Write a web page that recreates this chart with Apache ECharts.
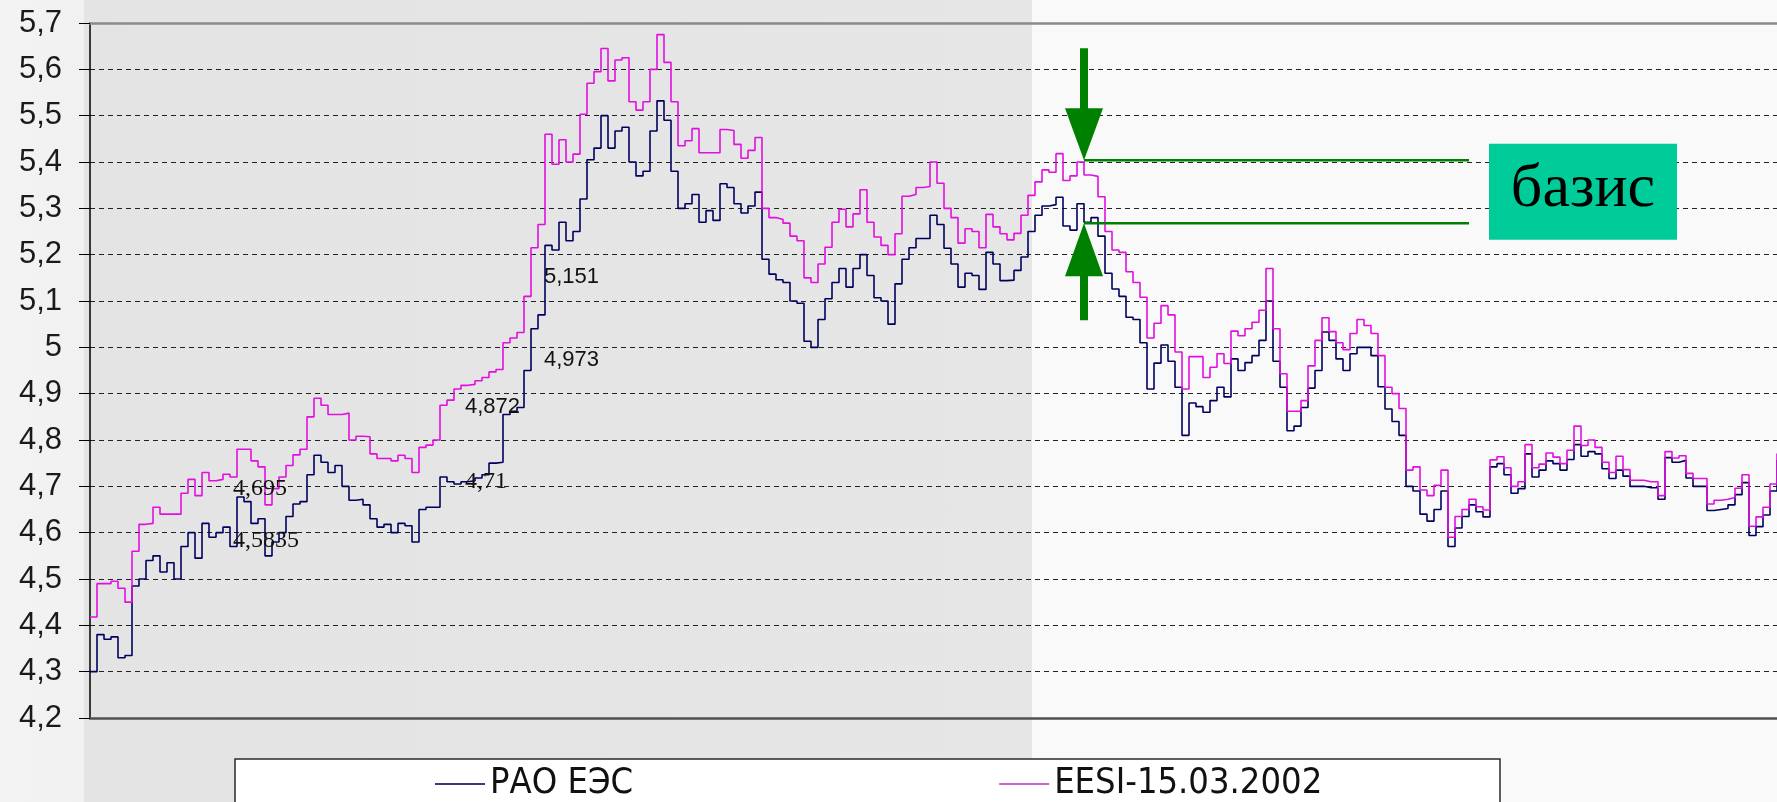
<!DOCTYPE html>
<html><head><meta charset="utf-8">
<script src="https://cdn.jsdelivr.net/npm/echarts@6/dist/echarts.min.js"></script>
<style>
html,body{margin:0;padding:0;}
#c{width:1777px;height:802px;background:linear-gradient(to right,#f3f3f3 0,#f1f1f1 84px,#e4e4e4 84px,#e6e6e6 1032px,#f9f9f9 1032px,#f9f9f9 100%);}
</style>
</head><body><div id="c"></div>
<script>
const seriesNames = ['РАО ЕЭС', 'EESI-15.03.2002'];
const rao = [4.30,4.38,4.37,4.375,4.33,4.335,4.485,4.50,4.54,4.55,
 4.515,4.535,4.50,4.57,4.60,4.545,4.62,4.59,4.60,4.612,
 4.57,4.677,4.667,4.62,4.63,4.55,4.58,4.60,4.635,4.662,
 4.667,4.725,4.767,4.752,4.73,4.745,4.70,4.67,4.672,4.66,
 4.63,4.612,4.618,4.60,4.62,4.615,4.58,4.65,4.655,4.655,
 4.72,4.71,4.705,4.71,4.712,4.718,4.725,4.75,4.752,4.855,
 4.862,4.87,4.95,5.04,5.07,5.22,5.21,5.27,5.23,5.25,
 5.32,5.405,5.43,5.50,5.43,5.467,5.475,5.40,5.37,5.38,
 5.467,5.532,5.49,5.38,5.30,5.31,5.33,5.27,5.295,5.274,
 5.353,5.345,5.31,5.29,5.305,5.335,5.19,5.158,5.146,5.14,
 5.10,5.095,5.013,5.0,5.06,5.105,5.14,5.17,5.13,5.17,
 5.20,5.155,5.107,5.10,5.05,5.137,5.19,5.215,5.235,5.235,
 5.285,5.265,5.214,5.18,5.13,5.16,5.155,5.125,5.205,5.18,
 5.144,5.145,5.166,5.195,5.25,5.285,5.305,5.308,5.324,5.262,
 5.253,5.31,5.27,5.28,5.24,5.16,5.126,5.11,5.065,5.06,
 5.01,4.91,4.966,5.005,4.97,4.914,4.81,4.88,4.872,4.86,
 4.885,4.914,4.893,4.975,4.95,4.967,4.982,5.015,5.10,4.97,
 4.914,4.82,4.83,4.87,4.912,4.95,5.033,5.015,4.975,4.95,
 4.986,5.0,5.0,4.982,4.915,4.867,4.84,4.81,4.70,4.69,
 4.64,4.625,4.65,4.69,4.57,4.61,4.635,4.66,4.645,4.634,
 4.742,4.749,4.725,4.685,4.695,4.77,4.72,4.735,4.755,4.749,
 4.735,4.758,4.79,4.765,4.775,4.77,4.738,4.717,4.735,4.722,
 4.70,4.70,4.697,4.697,4.672,4.762,4.752,4.756,4.718,4.70,
 4.70,4.648,4.65,4.652,4.66,4.682,4.708,4.594,4.613,4.638,
 4.69,4.757];
const eesi = [4.418,4.49,4.49,4.495,4.48,4.45,4.56,4.618,4.62,4.655,
 4.64,4.64,4.64,4.685,4.715,4.68,4.73,4.712,4.715,4.726,
 4.72,4.78,4.78,4.755,4.742,4.66,4.695,4.72,4.745,4.768,
 4.78,4.85,4.89,4.875,4.855,4.855,4.858,4.80,4.808,4.807,
 4.77,4.76,4.76,4.755,4.767,4.76,4.73,4.784,4.789,4.80,
 4.875,4.886,4.91,4.918,4.92,4.928,4.935,4.947,4.952,5.01,
 5.02,5.032,5.11,5.215,5.265,5.46,5.395,5.448,5.40,5.417,
 5.503,5.57,5.595,5.645,5.575,5.62,5.625,5.53,5.512,5.53,
 5.60,5.675,5.615,5.53,5.435,5.446,5.472,5.42,5.42,5.42,
 5.47,5.468,5.438,5.408,5.425,5.453,5.30,5.28,5.276,5.268,
 5.24,5.23,5.15,5.14,5.18,5.216,5.27,5.298,5.26,5.288,
 5.34,5.27,5.238,5.22,5.20,5.245,5.326,5.33,5.345,5.347,
 5.40,5.354,5.30,5.28,5.225,5.256,5.25,5.215,5.287,5.26,
 5.245,5.232,5.246,5.285,5.328,5.357,5.383,5.378,5.418,5.36,
 5.37,5.40,5.372,5.369,5.325,5.25,5.21,5.205,5.163,5.14,
 5.108,5.02,5.052,5.09,5.07,4.99,4.91,4.98,4.98,4.935,
 4.957,4.986,4.965,5.035,5.025,5.04,5.054,5.08,5.17,5.04,
 4.943,4.862,4.862,4.885,4.96,5.015,5.064,5.034,5.01,4.995,
 5.03,5.06,5.047,5.03,4.982,4.914,4.90,4.868,4.735,4.742,
 4.692,4.68,4.702,4.735,4.59,4.635,4.65,4.672,4.656,4.649,
 4.757,4.764,4.74,4.70,4.71,4.79,4.74,4.748,4.772,4.763,
 4.749,4.778,4.83,4.788,4.80,4.784,4.752,4.73,4.765,4.736,
 4.713,4.713,4.71,4.71,4.68,4.775,4.761,4.766,4.728,4.717,
 4.717,4.662,4.67,4.672,4.676,4.696,4.725,4.614,4.634,4.655,
 4.705,4.771];
const yTickLabels = ['4,2','4,3','4,4','4,5','4,6','4,7','4,8','4,9','5','5,1','5,2','5,3','5,4','5,5','5,6','5,7'];
const noteIdx = [20, 20, 53, 53, 64, 64];
const noteVal = [4.695, 4.5835, 4.71, 4.872, 4.973, 5.151];
const noteSerif = [true, true, true, false, false, false];
const basisIdx = 142, basisEndIdx = 197, basisHigh = 5.404, basisLow = 5.268;
const basisText = 'базис';

const obs = rao.map((_, i) => i + 1);
const chart = echarts.init(document.getElementById('c'), null, {renderer: 'canvas'});
const sans = "'Liberation Sans', Arial, sans-serif";
const serif = "'Liberation Serif', 'Times New Roman', serif";

const notes = noteIdx.map((ix, k) => ({
  coord: [ix, noteVal[k]],
  value: String(noteVal[k]).replace('.', ','),
  label: {
    show: true, position: 'right', distance: ix === 53 ? 4 : (noteSerif[k] ? 3 : 6),
    color: '#111', fontSize: noteSerif[k] ? 24 : 22,
    fontFamily: noteSerif[k] ? serif : sans,
    formatter: p => p.value
  }
}));

const option = {
  backgroundColor: 'transparent',
  animation: false,
  grid: {left: 90, right: 0, top: 23, bottom: 84, containLabel: false},
  legend: {
    data: seriesNames,
    left: 435, top: 766, z: 5, padding: 0,
    icon: 'rect', itemWidth: 50, itemHeight: 2, itemGap: 366,
    textStyle: {fontSize: 36, fontFamily: "'DejaVu Sans Condensed', 'Liberation Sans Narrow', sans-serif", color: '#111'}
  },
  xAxis: [
    {type: 'category', data: obs, boundaryGap: false, position: 'bottom',
     axisLine: {show: true, lineStyle: {color: '#505050', width: 2.5}},
     axisTick: {show: false}, axisLabel: {show: false}, splitLine: {show: false}},
    {type: 'category', data: obs, boundaryGap: false, position: 'top',
     axisLine: {show: true, lineStyle: {color: '#8a8a8a', width: 2.5}},
     axisTick: {show: false}, axisLabel: {show: false}, splitLine: {show: false}}
  ],
  yAxis: {
    type: 'value', min: 4.2, max: 5.7, interval: 0.1,
    axisLine: {show: true, lineStyle: {color: '#000', width: 1.5}},
    axisTick: {show: true, inside: false, length: 11, lineStyle: {color: '#000', width: 1}},
    axisLabel: {
      margin: 28, fontSize: 31, color: '#1a1a1a', fontFamily: sans,
      formatter: v => yTickLabels[Math.round((v - 4.2) * 10)]
    },
    splitLine: {show: true, lineStyle: {color: '#222', width: 1.2, type: [5, 4]}}
  },
  series: [
    {name: seriesNames[0], type: 'line', step: 'end', data: rao, xAxisIndex: 0, showSymbol: false, symbol: 'none',
     lineStyle: {color: '#00005e', width: 1.6}, itemStyle: {color: '#3a3a78'}, z: 3,
     markPoint: {symbol: 'circle', symbolSize: 0, data: notes, itemStyle: {color: 'transparent'}, animation: false}},
    {name: seriesNames[1], type: 'line', step: 'end', data: eesi, xAxisIndex: 0, showSymbol: false, symbol: 'none',
     lineStyle: {color: '#e010e0', width: 1.6}, itemStyle: {color: '#d060d0'}, z: 4}
  ]
};
chart.setOption(option);

const P = (ix, v) => chart.convertToPixel({gridIndex: 0}, [ix, v]);
const tTop = P(basisIdx, basisHigh), tBot = P(basisIdx, basisLow), eTop = P(basisEndIdx, basisHigh);
const gx = tTop[0], green = '#008000';
const midY = (tTop[1] + tBot[1]) / 2;
chart.setOption({
  graphic: [
    {type: 'rect', z: 1, shape: {x: 235, y: 759, width: 1265, height: 80},
     style: {fill: '#ffffff', stroke: '#2a2a2a', lineWidth: 1.5}},
    {type: 'polygon', z: 20, shape: {points: [[gx, tTop[1]], [gx - 19, tTop[1] - 52], [gx - 4, tTop[1] - 52], [gx - 4, tTop[1] - 112], [gx + 4, tTop[1] - 112], [gx + 4, tTop[1] - 52], [gx + 19, tTop[1] - 52]]},
     style: {fill: green}},
    {type: 'polygon', z: 20, shape: {points: [[gx, tBot[1]], [gx - 19, tBot[1] + 53], [gx - 4, tBot[1] + 53], [gx - 4, tBot[1] + 97], [gx + 4, tBot[1] + 97], [gx + 4, tBot[1] + 53], [gx + 19, tBot[1] + 53]]},
     style: {fill: green}},
    {type: 'line', z: 20, shape: {x1: gx, y1: tTop[1], x2: eTop[0], y2: tTop[1]}, style: {stroke: green, lineWidth: 2.5}},
    {type: 'line', z: 20, shape: {x1: gx, y1: tBot[1], x2: eTop[0], y2: tBot[1]}, style: {stroke: green, lineWidth: 2.5}},
    {type: 'rect', z: 20, shape: {x: eTop[0] + 20, y: midY - 48, width: 188, height: 96}, style: {fill: '#00cc99'}},
    {type: 'text', z: 21, x: eTop[0] + 20 + 94, y: midY - 2,
     style: {text: basisText, fill: '#000', font: "62px 'Liberation Serif', 'Times New Roman', serif", align: 'center', verticalAlign: 'middle'}}
  ]
});
</script>
</body></html>
